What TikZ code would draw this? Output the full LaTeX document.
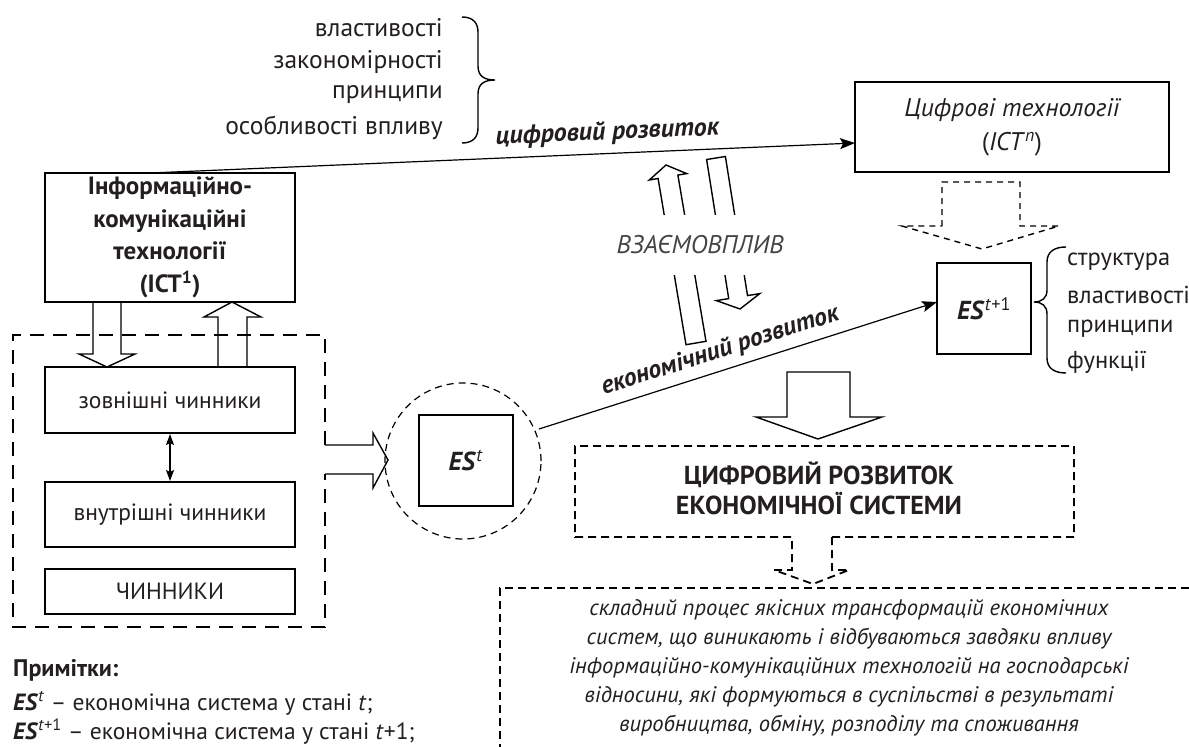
\documentclass[tikz,border=0pt]{standalone}
\usepackage{fontspec}
\setmainfont{PT Sans}
\usetikzlibrary{arrows.meta}
\definecolor{txt}{HTML}{231F20}
\definecolor{soft}{HTML}{444444}
\begin{document}
\begin{tikzpicture}[x=1pt,y=-1pt,
  every node/.style={inner sep=0pt, text=txt},
  fbox/.style={font=\fontsize{23.5}{30}\selectfont},
  flist/.style={font=\fontsize{25.5}{33}\selectfont},
  solidbox/.style={draw, line width=2pt, fbox, align=center},
  hollow/.style={draw, line width=1.4pt, line join=miter},
  dashbox/.style={draw, line width=1.8pt, dash pattern=on 8pt off 5pt},
  longdash/.style={draw, line width=1.8pt, dash pattern=on 14pt off 9pt},
  shortdash/.style={draw, line width=1.4pt, dash pattern=on 6pt off 5pt},
  conn/.style={line width=1.2pt, -{Stealth[length=15pt,width=11pt,inset=3pt]}},
  bracepath/.style={line width=1.4pt}]
\useasboundingbox (0,0) rectangle (1189,747);

% ---------- top-left list with brace ----------
\node[flist, anchor=east] (l1) at (443,28) {властивості};
\node[flist, anchor=east] (l2) at (443,62) {закономірності};
\node[flist, anchor=east] (l3) at (443,95) {принципи};
\node[flist, anchor=east] (l4) at (443,128) {особливості впливу};
\draw[bracepath] (462,17) .. controls (472,17) and (478,22) .. (478,32) -- (478,66)
  .. controls (478,76) and (484,80) .. (495,80)
  .. controls (484,80) and (478,84) .. (478,94) -- (478,128)
  .. controls (478,138) and (472,143) .. (462,143);

% ---------- ICT boxes ----------
\node[solidbox, minimum width=250, minimum height=129, font=\fontsize{25}{32.5}\selectfont\bfseries] (ict1) at (170,237.5)
  {Інформаційно-\\комунікаційні\\технології\\(ICT\textsuperscript{1})};
\node[solidbox, minimum width=314, minimum height=90, font=\fontsize{25.5}{34}\selectfont] (ictn) at (1012,127)
  {\itshape Цифрові технології\\(\textit{ICT}\textsuperscript{\textit{n}})};

\coordinate (dstart) at (150,173);
\coordinate (ictnin) at (855,143);
\draw[conn] (dstart) -- node[pos=0.65, sloped, above=8pt, font=\fontsize{26}{30}\selectfont\bfseries\itshape] {цифровий розвиток} (ictnin);

% ---------- factor boxes ----------
\node[solidbox, minimum width=250, minimum height=66] (zovn) at (170,400) {зовнішні чинники};
\node[solidbox, minimum width=250, minimum height=65] (vnut) at (170,514.5) {внутрішні чинники};
\node[solidbox, minimum width=250, minimum height=45] (chyn) at (170,591.5) {ЧИННИКИ};
\draw[line width=1.2pt, {Stealth[length=11pt,width=8pt,inset=2pt]}-{Stealth[length=11pt,width=8pt,inset=2pt]}] (zovn.south) -- (vnut.north);

% outer dashed frame with exit arrow
\draw[longdash] (325,445) -- (325,335) -- (13,335) -- (13,627) -- (325,627) -- (325,474);
\draw[hollow] (325,445) -- (373,445) -- (373,433) -- (388,460) -- (373,488) -- (373,474) -- (325,474);

% arrows between ICT1 and external factors
\draw[hollow] (93,302) -- (93,354) -- (79,354) -- (107,367) -- (135,354) -- (121,354) -- (121,302);
\draw[hollow] (218,367) -- (218,317) -- (204,317) -- (232,302) -- (261,317) -- (247,317) -- (247,367);

% ---------- ES^t ----------
\node[circle, draw, line width=1.2pt, dash pattern=on 7pt off 5pt, minimum size=156] (circ) at (463,461) {};
\node[solidbox, minimum width=94, minimum height=91, font=\fontsize{26}{30}\selectfont] (est) at (466,460.5)
  {\textbf{\textit{ES}}\textsuperscript{\textit{t}}};

% ---------- ES^{t+1} ----------
\node[solidbox, minimum width=94, minimum height=91, font=\fontsize{26}{30}\selectfont] (est1) at (984,308.5)
  {\textbf{\textit{ES}}\textsuperscript{\textit{t}+1}};
\coordinate (cout) at (539,429);
\coordinate (est1in) at (937,302);
\draw[conn] (cout) -- node[pos=0.47, sloped, above=7pt, font=\fontsize{25.5}{30}\selectfont\bfseries\itshape] {економічний розвиток} (est1in);

\draw[bracepath] (1066,247) .. controls (1054,247) and (1047,252) .. (1047,262) -- (1047,290)
  .. controls (1047,298) and (1042,302) .. (1034,302)
  .. controls (1042,302) and (1047,306) .. (1047,314) -- (1047,358)
  .. controls (1047,368) and (1054,373) .. (1066,373);
\node[anchor=west, font=\fontsize{24.5}{33}\selectfont] (r1) at (1067,262) {структура};
\node[anchor=west, font=\fontsize{24.5}{33}\selectfont] (r2) at (1067,295) {властивості};
\node[anchor=west, font=\fontsize{24.5}{33}\selectfont] (r3) at (1067,329) {принципи};
\node[anchor=west, font=\fontsize{24.5}{33}\selectfont] (r4) at (1067,362) {функції};

% dashed arrow from ICT^n to ES^{t+1}
\draw[shortdash] (942,226) -- (942,182) -- (1020,182) -- (1020,226) -- (1059,226) -- (982,249) -- (902,226) -- cycle;

% ---------- mutual influence arrows ----------
\draw[hollow] (706,341.3) -- (677.9,175.1) -- (686.7,173.6) -- (666,165) -- (649.3,180.0) -- (658.1,178.5) -- (686,344.7) -- cycle;
\draw[hollow] (725.4,156.5) -- (747.5,295.6) -- (759.8,293.6) -- (740,309) -- (716.4,300.6) -- (728.7,298.6) -- (706.6,159.5) -- cycle;
\node[fill=white, minimum width=160, minimum height=60, font=\fontsize{25.5}{28}\selectfont\itshape, text=soft] (mutual) at (700,245) {ВЗАЄМОВПЛИВ};

% ---------- digital development ----------
\draw[hollow] (787,372) -- (850,372) -- (850,417) -- (882,417) -- (818,439) -- (756,417) -- (787,417) -- cycle;
\draw[dashbox] (832,537) -- (1074,537) -- (1074,446) -- (575,446) -- (575,537) -- (792,537)
  -- (792,570) -- (774,570) -- (813,584) -- (849,570) -- (832,570) -- cycle;
\node[align=center, font=\fontsize{26}{30}\selectfont\bfseries] (dig) at (819,488)
  {ЦИФРОВИЙ РОЗВИТОК\\ЕКОНОМІЧНОЇ СИСТЕМИ};

\draw[dashbox] (1189,588) -- (500,588) -- (500,747);
\node[align=center, font=\fontsize{22.5}{29}\selectfont\itshape] (defn) at (849,667.5)
  {складний процес якісних трансформацій економічних\\
   систем, що виникають і відбуваються завдяки впливу\\
   інформаційно-комунікаційних технологій на господарські\\
   відносини, які формуються в суспільстві в результаті\\
   виробництва, обміну, розподілу та споживання};

% ---------- notes ----------
\node[anchor=west, font=\fontsize{24}{28}\selectfont\bfseries] (n0) at (13,670) {Примітки:};
\node[anchor=west, font=\fontsize{23.5}{28}\selectfont] (n1) at (13,703) {\textbf{\textit{ES}}\textsuperscript{\textit{t}} – економічна система у стані \textit{t};};
\node[anchor=west, font=\fontsize{23.5}{28}\selectfont] (n2) at (13,732) {\textbf{\textit{ES}}\textsuperscript{\textit{t}+1} – економічна система у стані \textit{t}+1;};
\end{tikzpicture}
\end{document}
